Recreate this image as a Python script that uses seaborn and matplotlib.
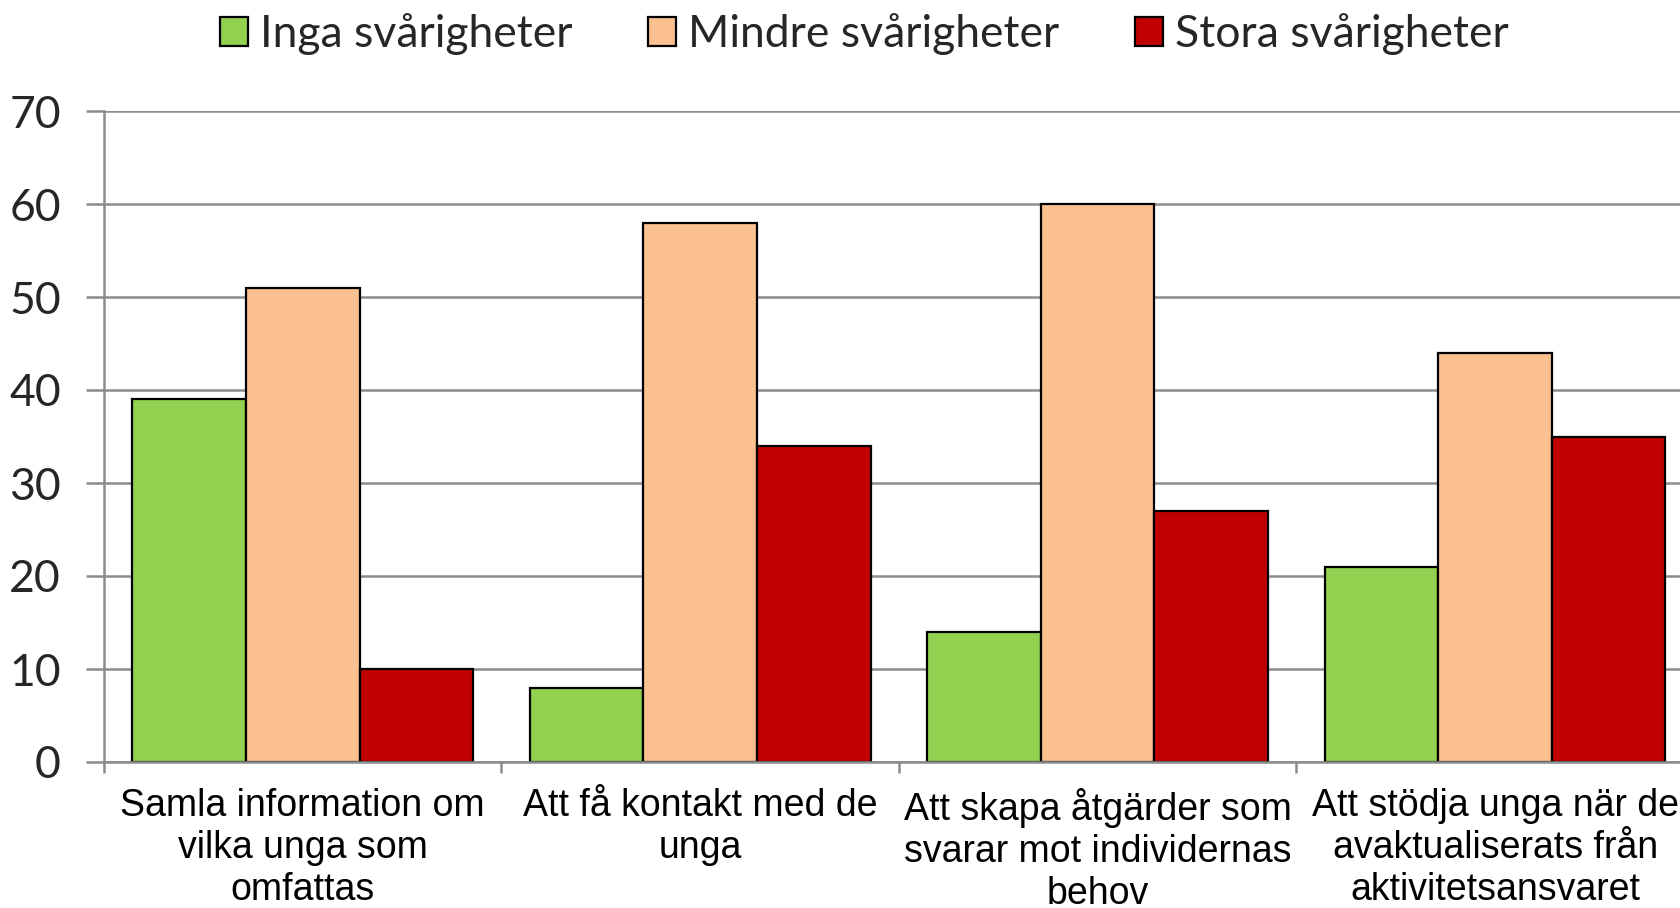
import pandas as pd
import numpy as np
import seaborn as sns
import matplotlib.pyplot as plt

# Data
categories = [
    "Samla information om\nvilka unga som\nomfattas",
    "Att få kontakt med de\nunga",
    "Att skapa åtgärder som\nsvarar mot individernas\nbehov",
    "Att stödja unga när de\navaktualiserats från\naktivitetsansvaret",
]
series = ["Inga svårigheter", "Mindre svårigheter", "Stora svårigheter"]
inga = [39, 8, 14, 21]
mindre = [51, 58, 60, 44]
stora = [10, 34, 27, 35]
colors = ["#92D050", "#FAC090", "#C00000"]

df = pd.DataFrame({
    "kategori": categories * 3,
    "serie": np.repeat(series, len(categories)),
    "varde": inga + mindre + stora,
})

sns.set_theme(style="white")
plt.rcParams["font.family"] = ["Lato", "DejaVu Sans"]

fig = plt.figure(figsize=(16.8, 9.08), dpi=100)
ax = fig.add_axes([104 / 1680, 1 - 762 / 908, 1 - 104 / 1680, (762 - 111) / 908])

sns.barplot(data=df, x="kategori", y="varde", hue="serie", palette=colors,
            width=0.857, gap=0, edgecolor="black", linewidth=1.6,
            saturation=1, ax=ax, legend=True)

ax.set_yticks(range(0, 71, 10))
ax.yaxis.grid(True, color="#8c8c8c", linewidth=1.8)
ax.set_axisbelow(True)
ax.set_xlabel("")
ax.set_ylabel("")

for side in ["top", "right"]:
    ax.spines[side].set_visible(False)
for side in ["left", "bottom"]:
    ax.spines[side].set_color("#8c8c8c")
    ax.spines[side].set_linewidth(1.8)

ax.tick_params(axis="y", left=True, length=13, width=1.8, color="#8c8c8c",
               labelsize=32, pad=18)
for lbl in ax.get_yticklabels():
    lbl.set_fontfamily(["Lato", "DejaVu Sans"])

# category boundaries as minor ticks, labels on major ticks without marks
ax.set_xticks(np.arange(-0.5, 4, 1), minor=True)
ax.tick_params(axis="x", which="minor", bottom=True, length=8, width=1.8,
               color="#8c8c8c")
ax.tick_params(axis="x", which="major", bottom=False, length=0, pad=19)
ax.set_xticks(range(len(categories)))
ax.set_xticklabels(categories, fontsize=27, fontfamily="Liberation Sans",
                   linespacing=1.2, color="black")

# limits last, set_xticks would widen them again
ax.set_ylim(0, 70)
ax.set_xlim(-0.5, 3.465)

handles, labels = ax.get_legend_handles_labels()
ax.legend_.remove()
fig.legend(handles, labels, loc="center", bbox_to_anchor=(864 / 1680, 1 - 34 / 908),
           ncol=3, frameon=False, fontsize=32, handlelength=0.63, handleheight=0.63,
           handletextpad=0.27, columnspacing=1.7)

fig.savefig("out.png", dpi=100)
